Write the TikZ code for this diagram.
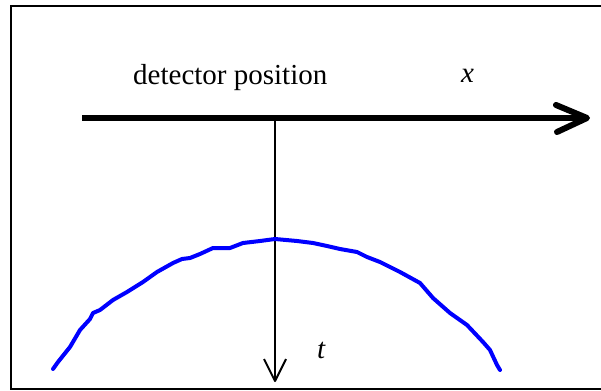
\documentclass[tikz,border=0pt]{standalone}
\usepackage{fontspec}
\setmainfont{Liberation Serif}
\begin{document}
\begin{tikzpicture}[x=1pt,y=-1pt,
  frame/.style={line width=2pt,black},
  axis/.style={line width=6pt,black},
  taxis/.style={line width=2pt,black},
  curve/.style={line width=4pt,blue,line cap=round,line join=round},
  lbl/.style={inner sep=0pt,anchor=base west,font=\fontsize{29}{30}\selectfont}]
\useasboundingbox (0,0) rectangle (601,390);
% frame (right edge cut off)
\draw[frame] (601,6) -- (10.5,6) -- (10.5,389) -- (601,389);
% coordinates
\coordinate (xs) at (82,118);
\coordinate (xe) at (587,118);
\coordinate (xu) at (556,105);
\coordinate (xl) at (557,132);
\coordinate (ts) at (275,118);
\coordinate (te) at (275,381);
\coordinate (tu) at (264,359);
\coordinate (tr) at (286,359);
% x axis
\draw[axis] (xs) -- (584,118);
\draw[axis,line join=round,line cap=round] (xu) -- (xe) -- (xl);
% t axis
\draw[taxis] (ts) -- (te);
\draw[taxis,line join=round] (tu) -- (te) -- (tr);
% labels
\node[lbl] (det) at (133,85) {detector position};
\node[lbl] (xlab) at (461,83) {\itshape x};
\node[lbl] (tlab) at (317,358) {\itshape t};
% hyperbola-like curve
\draw[curve] plot coordinates {(53,369) (58,362) (70,347) (80,330) (90,319) (93,313) (100,310) (113,300) (127,292) (143,282) (157,272) (173,263) (182,259) (190,258) (200,254) (213,248) (230,248) (243,243) (260,241) (275,239) (297,241) (313,243) (327,246) (340,249) (357,252) (367,257) (380,262) (400,272) (420,283) (433,298) (450,313) (467,325) (483,342) (490,350) (497,365) (500,370)};
\end{tikzpicture}
\end{document}
